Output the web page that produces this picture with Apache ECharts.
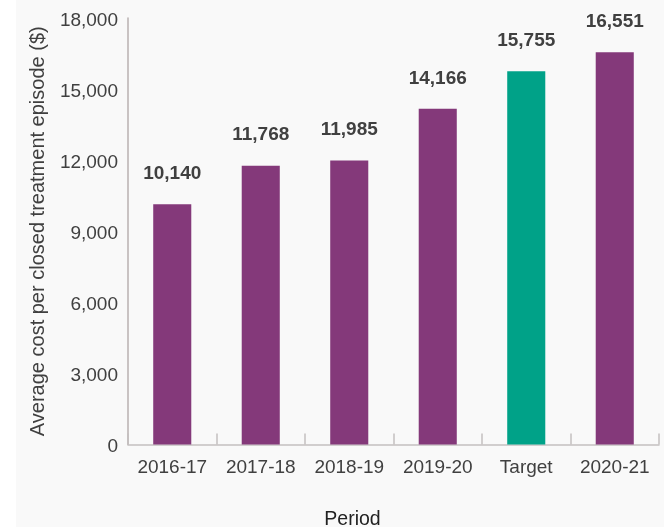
<!DOCTYPE html>
<html><head><meta charset="utf-8">
<script src="https://cdn.jsdelivr.net/npm/echarts@6/dist/echarts.min.js"></script>
<style>html,body{margin:0;padding:0;background:#fff}#c{width:664px;height:527px}</style>
</head><body><div id="c"></div>
<script>
const categories = ['2016-17','2017-18','2018-19','2019-20','Target','2020-21'];
const values = [10140, 11768, 11985, 14166, 15755, 16551];
const barColors = ['#84397A','#84397A','#84397A','#84397A','#00A288','#84397A'];
const yTicks = [0, 3000, 6000, 9000, 12000, 15000, 18000];

const chart = echarts.init(document.getElementById('c'));
chart.setOption({
  animation: false,
  graphic: [{type:'rect', shape:{x:16,y:0,width:648,height:527}, style:{fill:'#f9f9f9'}, z:-10, silent:true}],
  grid: {left:128, right:5, top:18, bottom:82.5, outerBoundsMode:'none', containLabel:false},
  xAxis: {
    type:'category', data: categories,
    name:'Period', nameLocation:'middle', nameGap:65.5,
    nameTextStyle:{fontSize:19.5, color:'#222', fontFamily:'Liberation Sans, Arial', padding:[0,82,0,0]},
    axisLine:{lineStyle:{color:'#c4c0c0', width:1.5}},
    axisTick:{show:true, inside:true, length:11, lineStyle:{color:'#c4c0c0', width:1.5}},
    axisLabel:{fontSize:19, color:'#404040', margin:13.5, interval:0, fontFamily:'Liberation Sans, Arial'}
  },
  yAxis: {
    type:'value', min:yTicks[0], max:yTicks[yTicks.length-1], interval:3000,
    name:'Average cost per closed treatment episode ($)', nameLocation:'middle', nameGap:80,
    nameTextStyle:{fontSize:20, color:'#404040', fontFamily:'Liberation Sans, Arial'},
    axisLine:{show:true, lineStyle:{color:'#b8b0b0', width:1.5}},
    axisTick:{show:false},
    splitLine:{show:false},
    axisLabel:{fontSize:19, color:'#404040', margin:10, verticalAlign:'top', lineHeight:5,
      fontFamily:'Liberation Sans, Arial',
      formatter: v => v.toLocaleString('en-US')}
  },
  series: [{
    type:'bar', barWidth:'43%',
    data: values.map((v,i)=>({value:v, itemStyle:{color:barColors[i]}})),
    label:{show:true, position:'top', distance:21, fontSize:19, fontWeight:'bold', color:'#404040',
      fontFamily:'Liberation Sans, Arial', formatter: p => p.value.toLocaleString('en-US')}
  }]
});
</script></body></html>
